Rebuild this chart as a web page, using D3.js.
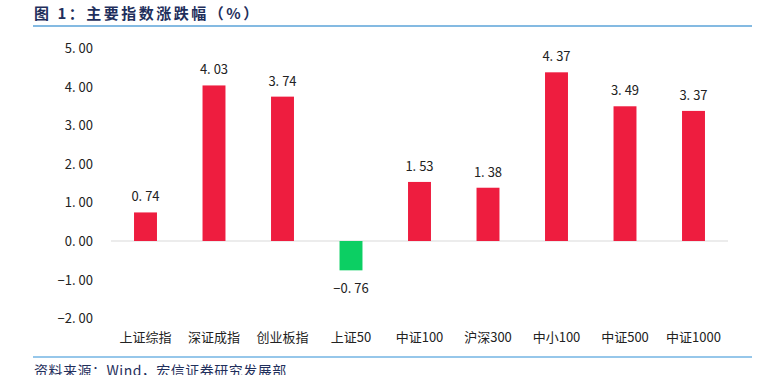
<!DOCTYPE html>
<html>
<head>
<meta charset="utf-8">
<script src="https://cdn.jsdelivr.net/npm/d3@7"></script>
<style>
  body { margin: 0; background: #fff; }
  svg { display: block; }
</style>
</head>
<body>
<div id="chart"></div>
<script>
// size of the picture
let svg_width = 779;
let svg_height = 375;

// data
let categories = ['上证综指', '深证成指', '创业板指', '上证50', '中证100', '沪深300', '中小100', '中证500', '中证1000'];
let values = [0.74, 4.03, 3.74, -0.76, 1.53, 1.38, 4.37, 3.49, 3.37];
let y_ticks = [5, 4, 3, 2, 1, 0, -1, -2];

let title_text = '图 1：主要指数涨跌幅（%）';
let source_text = '资料来源：Wind，宏信证券研究发展部';

let font = '"Noto Sans CJK SC", "Liberation Sans", sans-serif';

// scales
let x_scale = d3.scaleBand()
                .domain(categories)
                .range([111.25, 727.75])
                .paddingInner(0.665)
                .paddingOuter(0.3325);

let y_scale = d3.scaleLinear()
                .domain([-2, 5])
                .range([318.2, 48]);

let svg = d3.select('#chart')
            .append('svg')
            .attr('width', svg_width)
            .attr('height', svg_height);

// title and lines
svg.append('text')
    .attr('x', 34)
    .attr('y', 19)
    .attr('font-family', font)
    .attr('font-size', 15)
    .attr('font-weight', 'bold')
    .attr('letter-spacing', 2.5)
    .attr('fill', '#1f2f5c')
    .text(title_text);

svg.append('line')
    .attr('x1', 33).attr('x2', 752)
    .attr('y1', 26).attr('y2', 26)
    .attr('stroke', '#5ba3d9')
    .attr('stroke-width', 1.6);

svg.append('line')
    .attr('x1', 33).attr('x2', 752)
    .attr('y1', 357).attr('y2', 357)
    .attr('stroke', '#2e8fd6')
    .attr('stroke-width', 1.2);

svg.append('text')
    .attr('x', 34)
    .attr('y', 376)
    .attr('font-family', font)
    .attr('font-size', 14)
    .attr('letter-spacing', 0.5)
    .attr('fill', '#1f2f5c')
    .text(source_text);

// y axis labels
let y_axis = d3.axisLeft(y_scale)
                .tickValues(y_ticks)
                .tickFormat(d3.format('.2f'))
                .tickSize(0)
                .tickPadding(0);

let y_g = svg.append('g')
    .attr('transform', 'translate(93,0)')
    .call(y_axis);
y_g.select('.domain').remove();
y_g.selectAll('text')
    .attr('font-family', font)
    .attr('font-size', 13)
    .attr('fill', '#222')
    .attr('dy', '0.35em')
    .text(d => d3.format('.2f')(d).replace('.', '. ').replace('-', '\u2212'));

// zero line
svg.append('line')
    .attr('x1', 111).attr('x2', 728)
    .attr('y1', y_scale(0)).attr('y2', y_scale(0))
    .attr('stroke', '#d9d9d9')
    .attr('stroke-width', 1);

// bars
svg.selectAll('rect.bar')
    .data(values)
    .enter()
    .append('rect')
    .attr('class', 'bar')
    .attr('fill', d => d >= 0 ? '#ee1d3f' : '#0ccf63')
    .attr('x', (d, i) => x_scale(categories[i]))
    .attr('y', d => y_scale(Math.max(d, 0)))
    .attr('width', x_scale.bandwidth())
    .attr('height', d => Math.abs(y_scale(d) - y_scale(0)));

// bar labels
svg.selectAll('text.val')
    .data(values)
    .enter()
    .append('text')
    .attr('class', 'val')
    .attr('x', (d, i) => x_scale(categories[i]) + x_scale.bandwidth() / 2)
    .attr('y', d => d >= 0 ? y_scale(d) - 11 : y_scale(d) + 23)
    .attr('text-anchor', 'middle')
    .attr('font-family', font)
    .attr('font-size', 13)
    .attr('fill', '#222')
    .text(d => d3.format('.2f')(d).replace('.', '. ').replace('-', '\u2212'));

// category labels
svg.selectAll('text.cat')
    .data(categories)
    .enter()
    .append('text')
    .attr('class', 'cat')
    .attr('x', d => x_scale(d) + x_scale.bandwidth() / 2)
    .attr('y', 342)
    .attr('text-anchor', 'middle')
    .attr('font-family', font)
    .attr('font-size', 13)
    .attr('fill', '#222')
    .text(d => d);
</script>
</body>
</html>
